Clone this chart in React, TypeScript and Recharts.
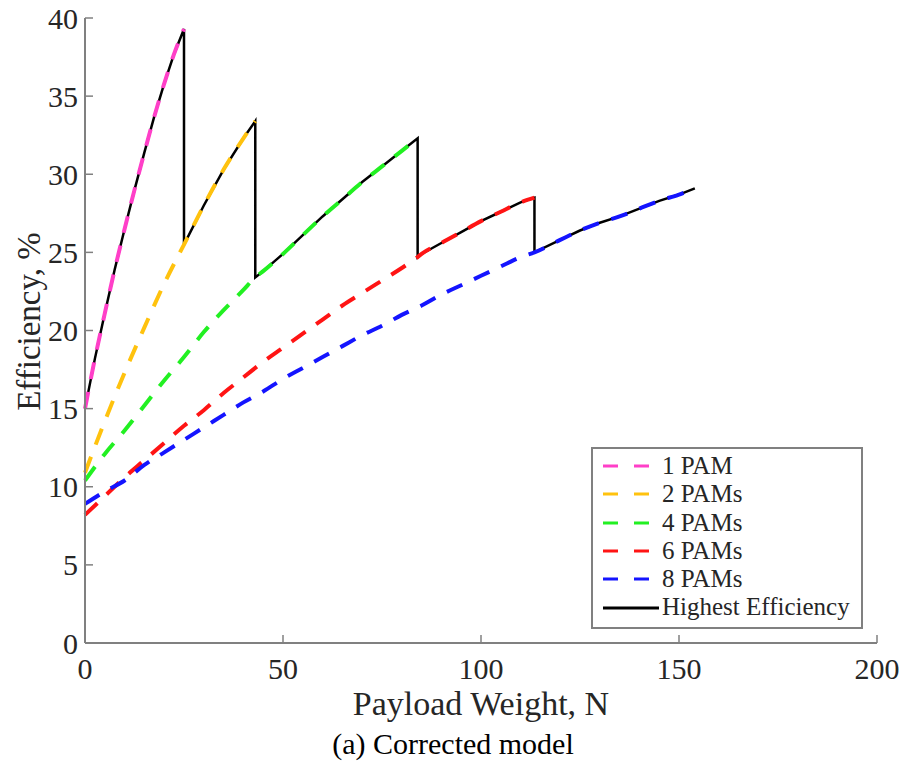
import React from "react";
import { LineChart, Line, XAxis, YAxis, Legend, Text } from "recharts";

// payload weight (N) vs efficiency (%)
const pam1: [number, number][] = [
  [0, 15], [2.5, 18.2], [5, 21.1], [7.5, 23.9], [10, 26.5], [12.5, 29.0],
  [15, 31.4], [17.5, 33.7], [20, 35.8], [22.5, 37.7], [25, 39.3],
];
const pam2: [number, number][] = [
  [0, 10.9], [5, 14.2], [10, 17.3], [15, 20.2], [20, 23.0], [25, 25.5],
  [30, 28.0], [35, 30.3], [40, 32.3], [43, 33.4],
];
const pam4: [number, number][] = [
  [0, 10.4], [5, 12.1], [10, 13.6], [15, 15.2], [20, 16.8], [25, 18.3],
  [30, 19.9], [35, 21.3], [40, 22.6], [43, 23.4], [45, 23.8], [50, 24.9],
  [55, 26.1], [60, 27.3], [65, 28.4], [70, 29.5], [75, 30.5], [80, 31.5], [84, 32.3],
];
const pam6: [number, number][] = [
  [0, 8.2], [5, 9.4], [10, 10.6], [15, 11.7], [20, 12.8], [25, 13.9],
  [30, 14.9], [35, 16.0], [40, 17.0], [45, 18.0], [50, 18.9], [55, 19.8],
  [60, 20.7], [65, 21.6], [70, 22.4], [75, 23.2], [80, 24.0], [84, 24.7],
  [85, 24.9], [90, 25.6], [95, 26.3], [100, 27.0], [105, 27.6], [110, 28.2], [113.5, 28.5],
];
const pam8: [number, number][] = [
  [0, 8.9], [5, 9.7], [10, 10.4], [15, 11.4], [20, 12.2], [25, 13.0],
  [30, 13.8], [35, 14.6], [40, 15.4], [45, 16.1], [50, 16.9], [55, 17.6],
  [60, 18.3], [65, 19.0], [70, 19.7], [75, 20.3], [80, 21.0], [85, 21.6],
  [90, 22.3], [95, 22.9], [100, 23.5], [105, 24.1], [110, 24.7], [113.5, 25.0],
  [120, 25.8], [125, 26.4], [130, 26.9], [135, 27.3], [140, 27.8], [145, 28.3],
  [150, 28.7], [154, 29.1],
];

// where the best configuration switches to the next one
const switchAt = [0, 25, 43, 84, 113.5, 154];

const xTicks = [0, 50, 100, 150, 200];
const yTicks = [0, 5, 10, 15, 20, 25, 30, 35, 40];

const series = [
  { name: "1 PAM", data: pam1, color: "#ff3fc8" },
  { name: "2 PAMs", data: pam2, color: "#ffc20e" },
  { name: "4 PAMs", data: pam4, color: "#22f022" },
  { name: "6 PAMs", data: pam6, color: "#ff1414" },
  { name: "8 PAMs", data: pam8, color: "#1414ff" },
];

const highest = series.flatMap((s, i) =>
  s.data.filter(([x]) => x >= switchAt[i] && x <= switchAt[i + 1])
);

const toRows = (pairs: [number, number][]) => pairs.map(([x, y]) => ({ x, y }));

const FONT = '"Liberation Serif", "Times New Roman", serif';
const AXIS = "#808080";
const INK = "#262626";
const TICK = 8;
const DASH = "17 13";

const BottomTick = (props: any) => {
  const { x, y, payload } = props;
  return (
    <g>
      <line x1={x} x2={x} y1={y - 10} y2={y - 10 - TICK} stroke={AXIS} strokeWidth={1.5} />
      <text x={x} y={y} dy="0.85em" textAnchor="middle" fill={INK} fontSize={30} fontFamily={FONT}>
        {payload.value}
      </text>
    </g>
  );
};

const LeftTick = (props: any) => {
  const { x, y, payload } = props;
  return (
    <g>
      <line x1={x + 7} x2={x + 7 + TICK} y1={y} y2={y} stroke={AXIS} strokeWidth={1.5} />
      <text x={x} y={y} dy="0.35em" textAnchor="end" fill={INK} fontSize={30} fontFamily={FONT}>
        {payload.value}
      </text>
    </g>
  );
};

const TopTick = (props: any) => (
  <line x1={props.x} x2={props.x} y1={props.y} y2={props.y + TICK} stroke={AXIS} strokeWidth={1.5} />
);

const RightTick = (props: any) => (
  <line x1={props.x} x2={props.x - TICK} y1={props.y} y2={props.y} stroke={AXIS} strokeWidth={1.5} />
);

const YLabel = (props: any) => {
  const { viewBox } = props;
  return (
    <Text
      x={28}
      y={viewBox.y + viewBox.height / 2 - 9}
      angle={-90}
      textAnchor="middle"
      verticalAnchor="middle"
      fill={INK}
      fontSize={33}
      fontFamily={FONT}
    >
      Efficiency, %
    </Text>
  );
};

const LegendBox = () => (
  <div
    style={{
      border: `2px solid ${AXIS}`,
      background: "#fff",
      padding: "3px 0 5px 8px",
      fontFamily: FONT,
      fontSize: 25,
      color: INK,
      lineHeight: "28.3px",
    }}
  >
    {[...series, { name: "Highest Efficiency", color: "#000" }].map((s, i) => (
      <div key={s.name} style={{ display: "flex", alignItems: "center", whiteSpace: "nowrap" }}>
        <svg width={60} height={10} style={{ marginRight: 1 }}>
          {i < series.length ? (
            <line x1={2} x2={58} y1={5} y2={5} stroke={s.color} strokeWidth={3} strokeDasharray="15 16" />
          ) : (
            <line x1={2} x2={58} y1={5} y2={5} stroke="#000" strokeWidth={3} />
          )}
        </svg>
        <span>{s.name}</span>
      </div>
    ))}
  </div>
);

export default function App() {
  return (
    <div style={{ position: "absolute", left: 0, top: 0, width: 906, height: 771, background: "#fff" }}>
      <LineChart width={906} height={771} margin={{ top: 18, right: 29, left: 0, bottom: 88 }}>
        <XAxis
          xAxisId="x"
          dataKey="x"
          type="number"
          domain={[0, 200]}
          ticks={xTicks}
          height={40}
          tickSize={0}
          tickMargin={10}
          tick={<BottomTick />}
          tickLine={false}
          axisLine={{ stroke: AXIS, strokeWidth: 2 }}
          allowDuplicatedCategory={false}
          label={{
            value: "Payload Weight, N",
            position: "bottom",
            offset: 8,
            fill: INK,
            fontSize: 34,
            fontFamily: FONT,
          }}
        />
        <XAxis
          xAxisId="xt"
          orientation="top"
          type="number"
          domain={[0, 200]}
          ticks={xTicks}
          height={0}
          tickSize={0}
          tickMargin={0}
          tick={<TopTick />}
          tickLine={false}
          axisLine={{ stroke: AXIS, strokeWidth: 2 }}
        />
        <YAxis
          yAxisId="y"
          dataKey="y"
          type="number"
          domain={[0, 40]}
          ticks={yTicks}
          width={85}
          tickSize={0}
          tickMargin={7}
          tick={<LeftTick />}
          tickLine={false}
          axisLine={{ stroke: AXIS, strokeWidth: 2 }}
          label={<YLabel />}
        />
        <YAxis
          yAxisId="yr"
          orientation="right"
          type="number"
          domain={[0, 40]}
          ticks={yTicks}
          width={0}
          tickSize={0}
          tickMargin={0}
          tick={<RightTick />}
          tickLine={false}
          axisLine={{ stroke: AXIS, strokeWidth: 2 }}
        />
        <Line
          xAxisId="x"
          yAxisId="y"
          data={toRows(highest)}
          dataKey="y"
          name="Highest Efficiency"
          stroke="#000"
          strokeWidth={2.5}
          dot={false}
          type="linear"
          isAnimationActive={false}
        />
        {series.map((s) => (
          <Line
            key={s.name}
            xAxisId="x"
            yAxisId="y"
            data={toRows(s.data)}
            dataKey="y"
            name={s.name}
            stroke={s.color}
            strokeWidth={4}
            strokeDasharray={DASH}
            dot={false}
            type="monotone"
            isAnimationActive={false}
          />
        ))}
        <Legend
          layout="horizontal"
          verticalAlign="middle"
          content={<LegendBox />}
          wrapperStyle={{ position: "absolute", left: 591, top: 447, width: 272, height: "auto" }}
        />
      </LineChart>
      <div
        style={{
          position: "absolute",
          left: 0,
          top: 727,
          width: 906,
          textAlign: "center",
          fontFamily: FONT,
          fontSize: 30,
          color: "#000",
        }}
      >
        (a) Corrected model
      </div>
    </div>
  );
}
